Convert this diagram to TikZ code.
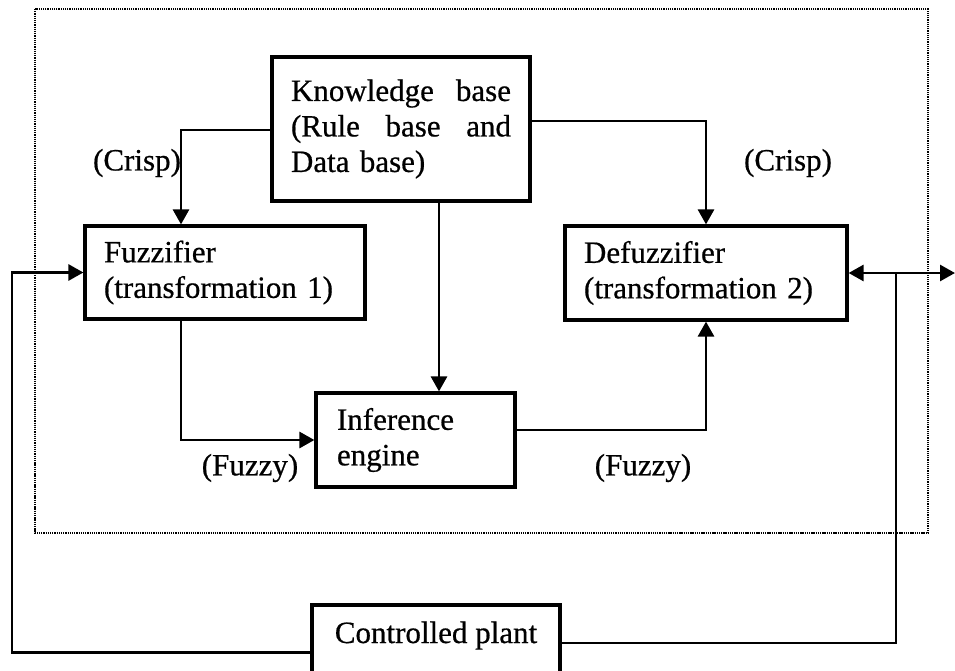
\documentclass[tikz,border=0pt]{standalone}
\usepackage{fontspec}
\setmainfont[FakeBold=0.6]{Liberation Serif}
\usetikzlibrary{arrows.meta}
\tikzset{
  txt/.style={font=\fontsize{31}{35.5}\selectfont},
  box/.style={draw, line width=3.2pt, txt, align=left, inner xsep=19pt, inner ysep=0pt},
  conn/.style={line width=2.8pt},
  tip/.style={-{Triangle[length=15pt,width=16pt]}},
  framebox/.style={line width=1.5pt, dash pattern=on 1.3pt off 0.9pt},
}
\begin{document}
\begin{tikzpicture}[x=1pt,y=-1pt]
\useasboundingbox (0,0) rectangle (955,671);
% dotted frame
\draw[framebox] (35,9) rectangle (928,533);
% boxes
\node[box, minimum width=258pt, minimum height=144pt, text width=220pt] (kb) at (401,129)
  {Knowledge\hfill base\\(Rule\hfill base\hfill and\\Data base)};
\node[box, minimum width=280pt, minimum height=93pt, text width=242pt] (fuzz) at (225,272.5)
  {Fuzzifier\\(transformation 1)};
\node[box, minimum width=282pt, minimum height=94pt, text width=244pt] (defuzz) at (706,273)
  {Defuzzifier\\(transformation 2)};
\node[box, minimum width=199pt, minimum height=94pt, text width=157pt, inner xsep=21pt] (inf) at (415.5,440)
  {Inference\\engine};
\node[box, inner xsep=0pt, text height=38pt, text depth=57pt, minimum width=248pt, anchor=base] (plant) at (436,643)
  {Controlled plant};
% labels
\node[txt] (crispL) at (137,163) {(Crisp)};
\node[txt] (crispR) at (788,163) {(Crisp)};
\node[txt] (fuzzyL) at (250,468) {(Fuzzy)};
\node[txt] (fuzzyR) at (643,468) {(Fuzzy)};
% coordinates
\coordinate (cl) at (181,130);
\coordinate (cr) at (706,121);
\coordinate (ki) at (439,300);
\coordinate (fi) at (181,440);
\coordinate (id) at (706,430);
\coordinate (lc) at (12,652.5);
\coordinate (j) at (896,273);
\coordinate (out) at (955,273);
% connectors
\draw[conn,tip] (kb.west|-cl) -- (cl) -- (cl|-fuzz.north);
\draw[conn,tip] (kb.east|-cr) -- (cr) -- (defuzz.north);
\draw[conn,tip] (kb.south-|ki) -- (inf.north-|ki);
\draw[conn,tip] (fuzz.south-|fi) -- (fi) -- (inf.west);
\draw[conn,tip] (inf.east|-id) -- (id) -- (defuzz.south);
\draw[conn,tip] (plant.west) -- (lc) |- (fuzz.west);
\draw[conn] (plant.base east) -| (j);
\draw[conn,tip] (j) -- (defuzz.east);
\draw[conn,tip] (j) -- (out);
\end{tikzpicture}
\end{document}
